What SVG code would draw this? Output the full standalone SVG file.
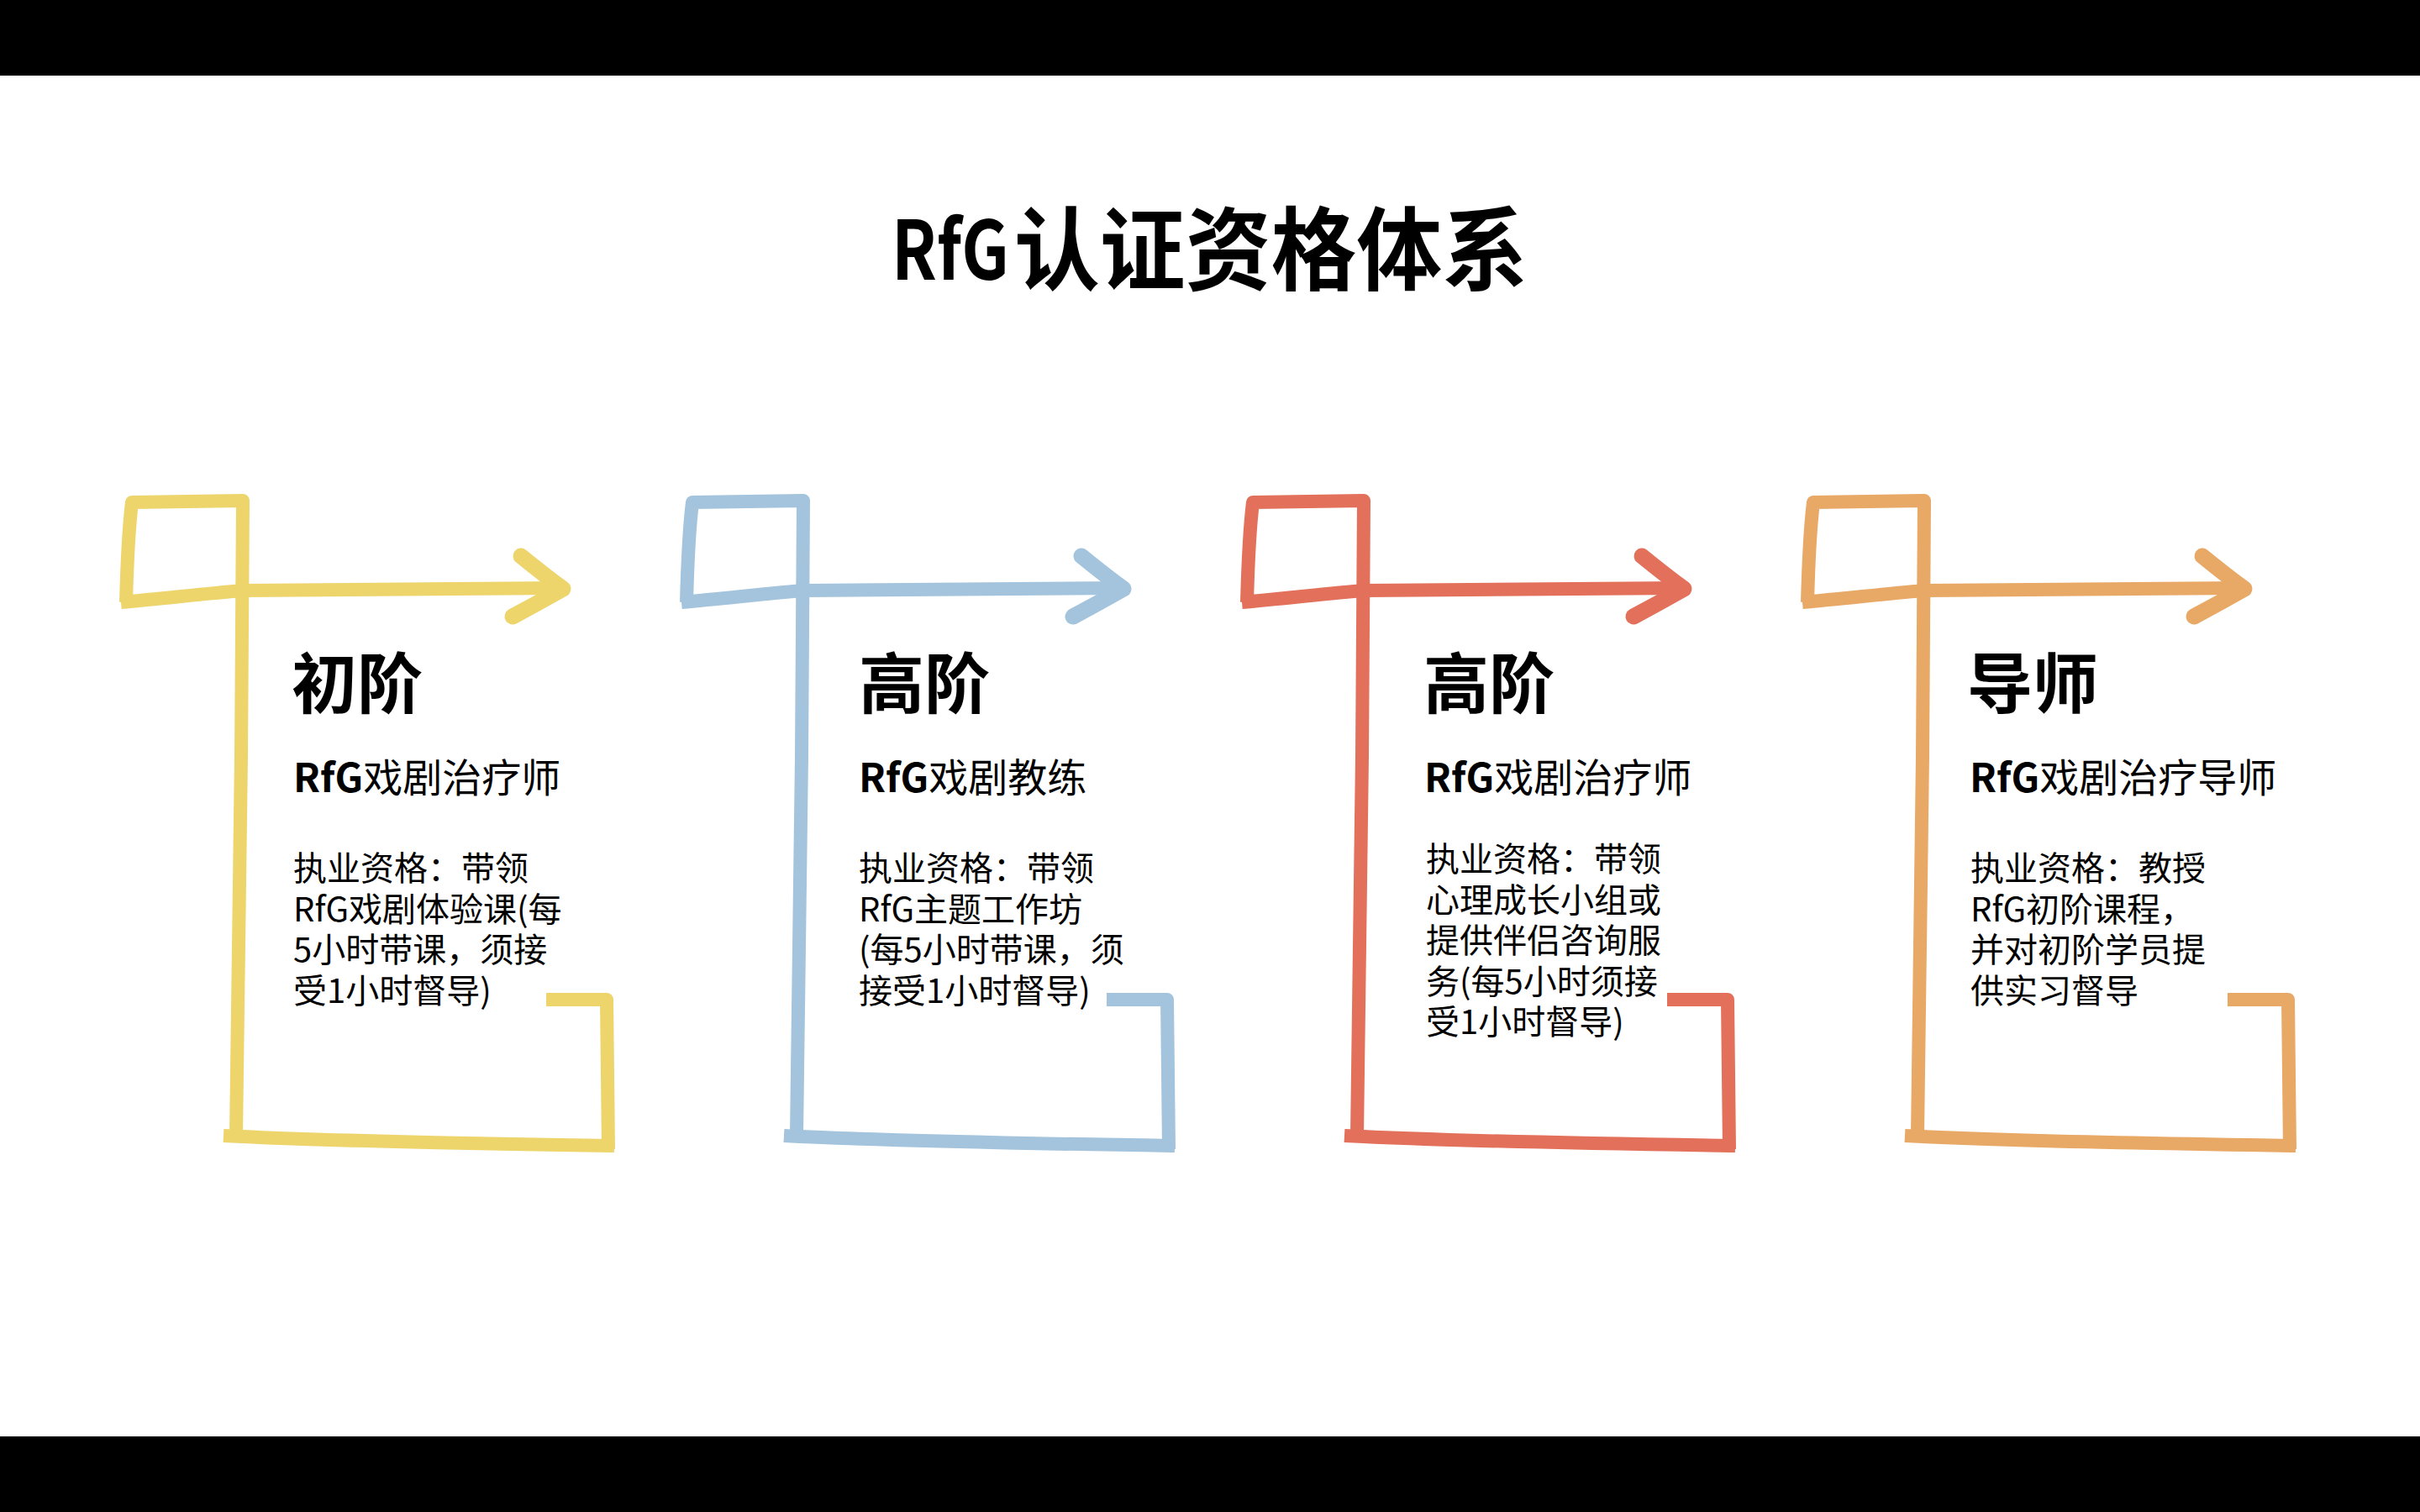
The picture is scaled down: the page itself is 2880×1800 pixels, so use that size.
<svg xmlns="http://www.w3.org/2000/svg" xmlns:xlink="http://www.w3.org/1999/xlink" width="2880" height="1800" viewBox="0 0 2880 1800">
<style>
.t{font-family:"Noto Sans CJK SC","Noto Sans",sans-serif;fill:#000}
.tt{font-weight:700}
.h{font-size:78px;font-weight:700}
.s{font-size:47px;font-weight:400}
.s .e{font-weight:700}
.b{font-size:40px;font-weight:400}
.fr path{fill:none;stroke-width:16;stroke-linejoin:round}
.fr .ah{stroke-width:19;stroke-linecap:round}
</style>
<defs>
<g id="frame" class="fr">
<path d="M144,717 C200,712 250,706 290,703 L668,700"/>
<path d="M150,717 C151,680 153,630 157,598 L289,596 L287,900 L281,1352"/>
<path d="M266,1352 C400,1359 600,1362 731,1364"/>
<path d="M724,1368 L722,1190 L650,1190"/>
<path class="ah" d="M620,662 Q647,684 670,701 Q640,718 610,734"/>
</g>
</defs>
<rect x="0" y="0" width="2880" height="1800" fill="#fff"/>
<rect x="0" y="0" width="2880" height="90" fill="#000"/>
<rect x="0" y="1710" width="2880" height="90" fill="#000"/>
<g id="title">
<text class="t tt" x="1061" y="333" font-size="97" textLength="140" lengthAdjust="spacingAndGlyphs">RfG</text>
<text class="t tt" x="1207" y="337" font-size="108" textLength="611" lengthAdjust="spacingAndGlyphs">认证资格体系</text>
</g>
<g id="connectors">
<use xlink:href="#frame" stroke="#EDD56C"/>
<use xlink:href="#frame" stroke="#A3C4DC" transform="translate(667,0)"/>
<use xlink:href="#frame" stroke="#E3705A" transform="translate(1334,0)"/>
<use xlink:href="#frame" stroke="#E8A866" transform="translate(2001,0)"/>
</g>
<g id="node1">
<text class="t h" x="347" y="843">初阶</text>
<text class="t s" x="349" y="943"><tspan class="e">RfG</tspan>戏剧治疗师</text>
<text class="t b" x="349" y="1048">执业资格：带领<tspan x="349" dy="49">RfG戏剧体验课(每</tspan><tspan x="349" dy="48">5小时带课，须接</tspan><tspan x="349" dy="49">受1小时督导)</tspan></text>
</g>
<g id="node2">
<text class="t h" x="1022" y="843">高阶</text>
<text class="t s" x="1022" y="943"><tspan class="e">RfG</tspan>戏剧教练</text>
<text class="t b" x="1022" y="1048">执业资格：带领<tspan x="1022" dy="49">RfG主题工作坊</tspan><tspan x="1022" dy="48">(每5小时带课，须</tspan><tspan x="1022" dy="49">接受1小时督导)</tspan></text>
</g>
<g id="node3">
<text class="t h" x="1694" y="843">高阶</text>
<text class="t s" x="1695" y="943"><tspan class="e">RfG</tspan>戏剧治疗师</text>
<text class="t b" x="1697" y="1037">执业资格：带领<tspan x="1697" dy="49">心理成长小组或</tspan><tspan x="1697" dy="48">提供伴侣咨询服</tspan><tspan x="1697" dy="49">务(每5小时须接</tspan><tspan x="1697" dy="48">受1小时督导)</tspan></text>
</g>
<g id="node4">
<text class="t h" x="2341" y="843">导师</text>
<text class="t s" x="2344" y="943"><tspan class="e">RfG</tspan>戏剧治疗导师</text>
<text class="t b" x="2345" y="1048">执业资格：教授<tspan x="2345" dy="49">RfG初阶课程，</tspan><tspan x="2345" dy="48">并对初阶学员提</tspan><tspan x="2345" dy="49">供实习督导</tspan></text>
</g>
</svg>
